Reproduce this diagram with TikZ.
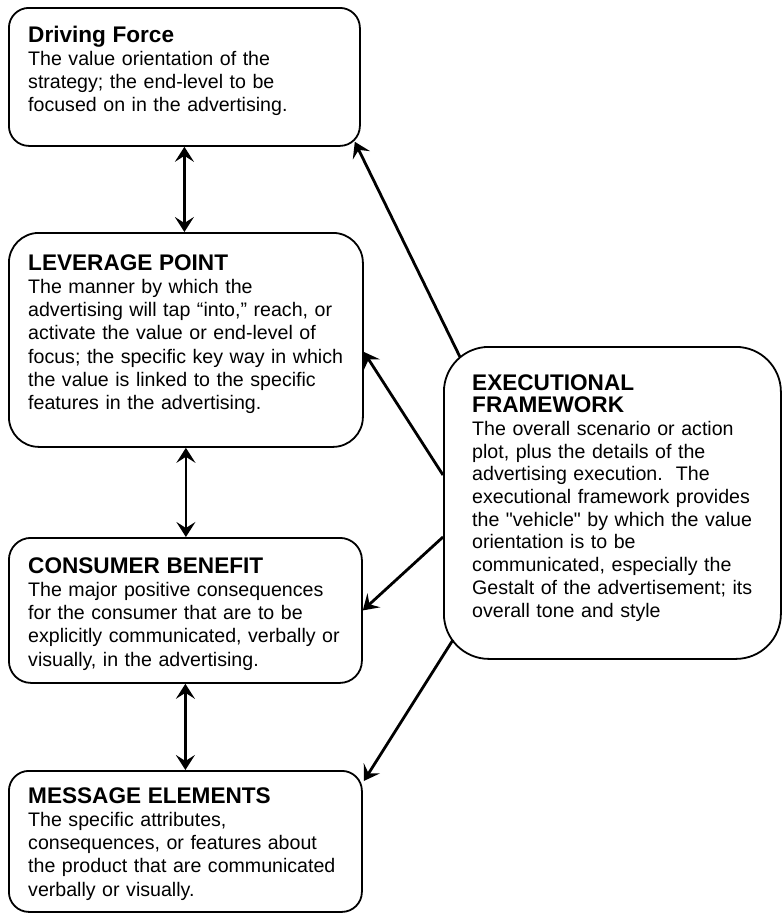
\documentclass[tikz,border=0pt]{standalone}
\usepackage{fontspec}
\setmainfont{Liberation Sans}
\usetikzlibrary{arrows.meta}
\begin{document}
\begin{tikzpicture}[x=1pt,y=-1pt,
  box/.style={draw, line width=1.8pt, rounded corners=#1, inner sep=0pt, anchor=north west},
  box/.default=20pt,
  txt/.style={anchor=base west, align=left, inner sep=0pt, text width=345pt,
              font=\fontsize{19.6}{23.3}\selectfont},
  link/.style={line width=2.8pt, -{Stealth[length=15pt,width=19pt,inset=6pt]}},
  twoway/.style={line width=2.8pt, {Stealth[length=15pt,width=19pt,inset=6pt]}-{Stealth[length=15pt,width=19pt,inset=6pt]}}
]
\newcommand{\hd}[1]{{\fontsize{22.6}{23.3}\selectfont\bfseries #1}}
\fill[white] (0,0) rectangle (783,913);
\useasboundingbox (0,0) rectangle (783,913);

% boxes
\node[box=20pt, minimum width=351pt, minimum height=138pt] (DF) at (8,7) {};
\node[box=30pt, minimum width=354pt, minimum height=214pt] (LP) at (8,232) {};
\node[box=22pt, minimum width=353pt, minimum height=145pt] (CB) at (8,537) {};
\node[box=20pt, minimum width=353pt, minimum height=141pt] (ME) at (8,770) {};
\node[box=45pt, minimum width=337pt, minimum height=312pt] (EF) at (443,346) {};

% texts
\node[txt] (tDF) at (28,42) {\hd{Driving Force}\\
The value orientation of the\\
strategy; the end-level to be\\
focused on in the advertising.};
\node[txt] (tLP) at (28,270) {\hd{LEVERAGE POINT}\\
The manner by which the\\
advertising will tap ``into,'' reach, or\\
activate the value or end-level of\\
focus; the specific key way in which\\
the value is linked to the specific\\
features in the advertising.};
\node[txt] (tCB) at (28,573) {\hd{CONSUMER BENEFIT}\\
The major positive consequences\\
for the consumer that are to be\\
explicitly communicated, verbally or\\
visually, in the advertising.};
\node[txt] (tME) at (28,803) {\hd{MESSAGE ELEMENTS}\\
The specific attributes,\\
consequences, or features about\\
the product that are communicated\\
verbally or visually.};
\node[txt, font=\fontsize{19.6}{22.7}\selectfont] (tEF) at (472,390) {\hd{EXECUTIONAL}\\
\hd{FRAMEWORK}\\
The overall scenario or action\\
plot, plus the details of the\\
advertising execution.\ \ The\\
executional framework provides\\
the \textquotedbl vehicle\textquotedbl{} by which the value\\
orientation is to be\\
communicated, especially the\\
Gestalt of the advertisement; its\\
overall tone and style};

% two-way links down the chain
\draw[twoway] (DF.south) -- (DF.south |- LP.north);
\draw[twoway] (LP.south) -- (LP.south |- CB.north);
\draw[twoway] (CB.south) -- (CB.south |- ME.north);

% links from the executional framework
\draw[link] ([shift={(17,11)}]EF.north west) -- ([shift={(-6,-5)}]DF.south east);
\draw[link] ([shift={(0,129)}]EF.north west) -- ([shift={(0,12)}]LP.east);
\draw[link] ([shift={(0,191)}]EF.north west) -- (CB.east);
\draw[link] ([shift={(10,-20)}]EF.south west) -- ([shift={(1,11)}]ME.north east);
\end{tikzpicture}
\end{document}
